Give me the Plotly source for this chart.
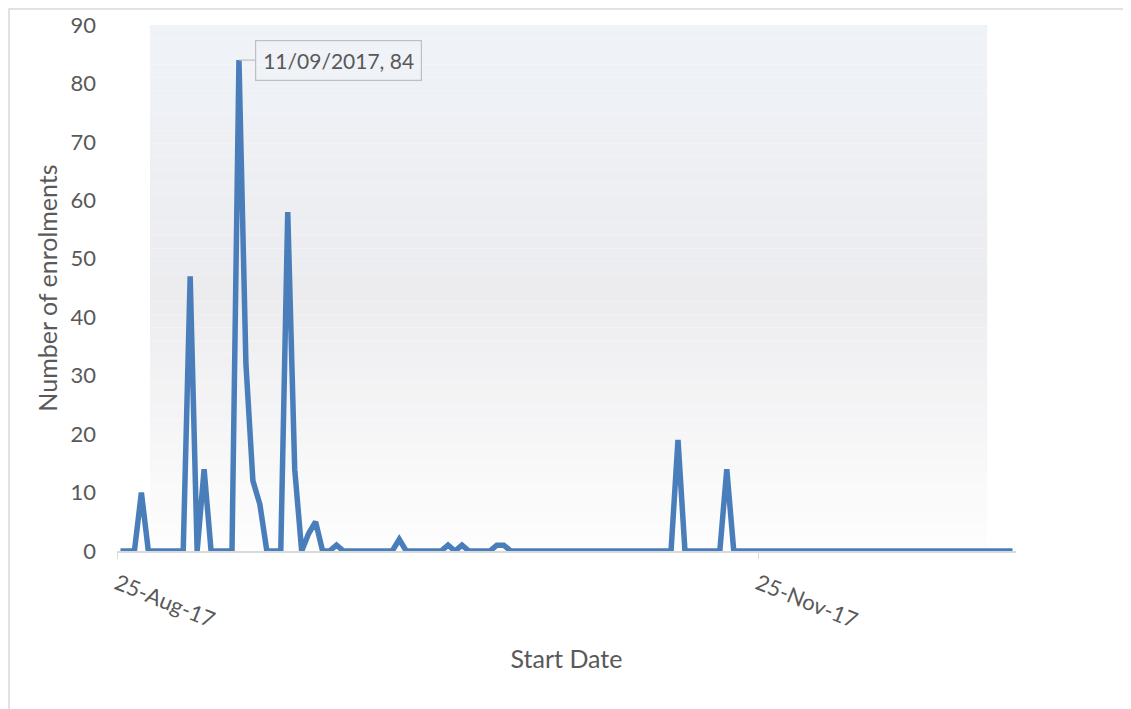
import pandas as pd
import plotly.graph_objects as go

# enrolments per start date, one value per day from 25-Aug-2017 to 31-Dec-2017
enrolments = [
    0, 0, 0, 10, 0, 0, 0, 0, 0, 0,      # 25 Aug - 03 Sep
    47, 0, 14, 0, 0, 0, 0, 84, 32, 12,  # 04 Sep - 13 Sep
    8, 0, 0, 0, 58, 14, 0, 3, 5, 0,     # 14 Sep - 23 Sep
    0, 1, 0, 0, 0, 0, 0, 0, 0, 0,       # 24 Sep - 03 Oct
    2, 0, 0, 0, 0, 0, 0, 1, 0, 1,       # 04 Oct - 13 Oct
    0, 0, 0, 0, 1, 1, 0, 0, 0, 0,       # 14 Oct - 23 Oct
    0, 0, 0, 0, 0, 0, 0, 0, 0, 0,       # 24 Oct - 02 Nov
    0, 0, 0, 0, 0, 0, 0, 0, 0, 0,       # 03 Nov - 12 Nov
    19, 0, 0, 0, 0, 0, 0, 14, 0, 0,     # 13 Nov - 22 Nov
    0, 0, 0, 0, 0, 0, 0, 0, 0, 0,       # 23 Nov - 02 Dec
    0, 0, 0, 0, 0, 0, 0, 0, 0, 0,       # 03 Dec - 12 Dec
    0, 0, 0, 0, 0, 0, 0, 0, 0, 0,       # 13 Dec - 22 Dec
    0, 0, 0, 0, 0, 0, 0, 0, 0,          # 23 Dec - 31 Dec
]
start_dates = pd.date_range("2017-08-25", periods=len(enrolments), freq="D")

tick_dates = ["2017-08-25", "2017-11-25"]
tick_labels = ["25-Aug-17", "25-Nov-17"]

FONT = "Lato"
GREY = "#595959"

fig = go.Figure()
fig.add_trace(go.Scatter(
    x=start_dates, y=enrolments, mode="lines",
    line=dict(color="#4a7ebb", width=5.5),
    hoverinfo="x+y", showlegend=False,
))

# soft vertical gradient behind the plot (excel style plot area)
def mix(c1, c2, t):
    a = [int(c1[i:i + 2], 16) for i in (1, 3, 5)]
    b = [int(c2[i:i + 2], 16) for i in (1, 3, 5)]
    return "#%02x%02x%02x" % tuple(round(a[k] + (b[k] - a[k]) * t) for k in range(3))

n = 40
for i in range(n):
    t = i / (n - 1)
    if t < 0.5:
        col = mix("#eff3f8", "#ececef", t / 0.5)
    else:
        col = mix("#ececef", "#fdfdfd", (t - 0.5) / 0.5)
    fig.add_shape(type="rect", xref="paper", yref="paper",
                  x0=0.0367, x1=0.968, y0=1 - (i + 1) / n, y1=1 - i / n,
                  fillcolor=col, line_width=0, layer="below")

# chart outer border (its right and bottom edges fall outside the picture)
fig.add_shape(type="rect", xref="paper", yref="paper",
              x0=-0.1201, x1=1.3, y0=-0.5, y1=1.0304,
              line=dict(color="#d9d9d9", width=1.5), layer="below")

# peak callout
peak_i = enrolments.index(max(enrolments))
peak_date = start_dates[peak_i]
fig.add_annotation(
    x=peak_date, y=enrolments[peak_i],
    text=f"{peak_date:%d/%m/%Y}, {enrolments[peak_i]}",
    showarrow=True, arrowhead=0, arrowcolor="#bfbfbf", arrowwidth=1.2,
    ax=100, ay=0,
    bordercolor="#bfbfbf", borderwidth=1.2, borderpad=7,
    bgcolor="rgba(255,255,255,0)",
    font=dict(family=FONT, size=21, color=GREY),
)

half_day = pd.Timedelta(hours=12)
fig.update_xaxes(
    range=[start_dates[0] - half_day, start_dates[-1] + half_day],
    tickvals=[pd.Timestamp(d) - half_day for d in tick_dates],
    ticktext=tick_labels,
    tickangle=22,
    ticks="outside", ticklen=6, tickcolor="#d9d9d9",
    ticklabelstandoff=4,
    showline=True, linecolor="#d9d9d9", linewidth=1.5,
    showgrid=False, zeroline=False,
    tickfont=dict(family=FONT, size=22, color=GREY),
    title=dict(text="Start Date", font=dict(family=FONT, size=25, color=GREY), standoff=18),
)
fig.update_yaxes(
    range=[0, 90], dtick=10,
    showgrid=False, zeroline=False, showline=False, ticks="",
    ticklabelstandoff=20,
    tickfont=dict(family=FONT, size=22, color=GREY),
    title=dict(text="Number of enrolments", font=dict(family=FONT, size=25, color=GREY), standoff=5),
)

# the page body adds an 8px offset, margins compensate for it
fig.update_layout(
    width=1131, height=709,
    margin=dict(l=109, r=123, t=17, b=166, autoexpand=False),
    paper_bgcolor="white", plot_bgcolor="rgba(0,0,0,0)",
    font=dict(family=FONT, color=GREY),
)

fig.write_html("out.html")
